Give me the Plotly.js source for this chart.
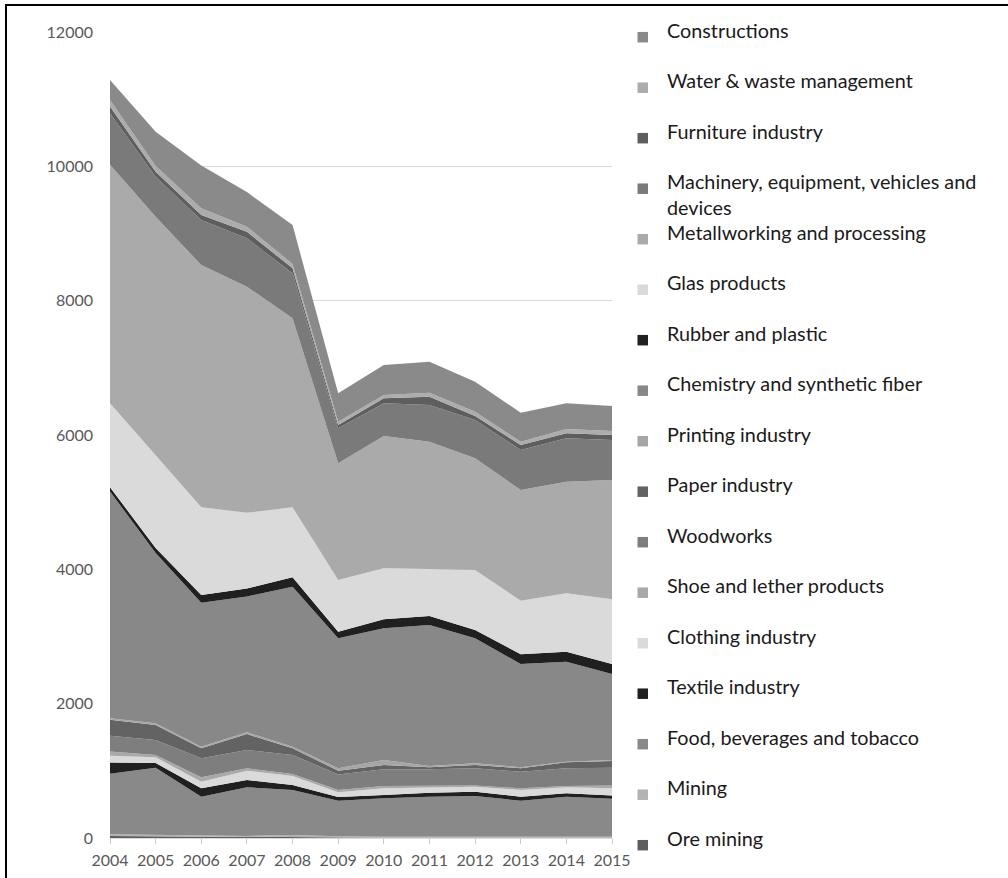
<!DOCTYPE html>
<html><head><meta charset="utf-8">
<script src="https://cdn.plot.ly/plotly-3.0.1.min.js"></script>
<style>
html,body{margin:0;padding:0;background:#fff;overflow:hidden}
#chart{width:1008px;height:878px}
#frame{position:absolute;left:5px;top:4px;width:1100px;height:1000px;border-left:2.5px solid #000;border-top:2.5px solid #000;pointer-events:none}
</style></head>
<body><div id="chart"></div><div id="frame"></div>
<script>
const years = [2004,2005,2006,2007,2008,2009,2010,2011,2012,2013,2014,2015];

const oreMining     = [30,25,25,10,10,5,5,5,5,5,5,5];
const mining        = [25,25,20,20,35,20,15,15,15,15,15,15];
const foodBeverages = [900,995,570,725,670,530,570,595,605,535,595,565];
const textile       = [168,70,125,108,74,55,50,59,64,60,50,48];
const clothing      = [100,86,98,139,134,70,100,81,75,100,90,107];
const shoeLeather   = [64,34,66,36,30,35,35,20,16,25,20,40];
const woodworks     = [234,224,283,272,283,230,248,248,258,247,263,265];
const paper         = [238,223,148,238,99,57,64,30,49,51,89,100];
const printing      = [25,26,24,26,24,36,74,19,25,15,9,16];
const chemistry     = [3374,2535,2144,2021,2382,1935,1961,2099,1861,1537,1489,1281];
const rubberPlastic = [65,75,115,120,140,99,134,134,124,145,149,148];
const glasProducts  = [1250,1382,1305,1128,1042,769,759,700,893,798,869,963];
const metallworking = [3549,3550,3607,3365,2814,1737,1970,1895,1663,1648,1662,1777];
const machinery     = [769,596,671,720,670,522,487,547,570,596,646,595];
const furniture     = [99,74,74,99,75,49,74,123,60,74,74,75];
const waterWaste    = [99,85,100,75,64,49,49,60,64,49,64,59];
const constructions = [298,509,639,515,580,422,447,462,446,432,382,372];

// stacking order: bottom to top
const seriesNames = [
  "Ore mining","Mining","Food, beverages and tobacco","Textile industry","Clothing industry",
  "Shoe and lether products","Woodworks","Paper industry","Printing industry",
  "Chemistry and synthetic fiber","Rubber and plastic","Glas products",
  "Metallworking and processing","Machinery, equipment, vehicles and<br>devices",
  "Furniture industry","Water & waste management","Constructions"
];
const seriesValues = [
  oreMining,mining,foodBeverages,textile,clothing,shoeLeather,woodworks,paper,printing,
  chemistry,rubberPlastic,glasProducts,metallworking,machinery,furniture,waterWaste,constructions
];
const yTicks = [0,2000,4000,6000,8000,10000,12000];

// styles
const seriesColors = [
  "#5e5e5e","#b2b2b2","#898989","#202020","#dadada",
  "#a9a9a9","#7e7e7e","#636363","#a6a6a6",
  "#888888","#202020","#dadada",
  "#aaaaaa","#7a7a7a","#5e5e5e","#acacac","#8a8a8a"
];

const L = 110, R = 396, T = 32, B = 40, W = 1008, H = 878;
const PW = W - L - R, PH = H - T - B;
const px2x = x => (x - L) / PW;
const px2y = y => (H - B - y) / PH;

const traces = seriesValues.map((vals, i) => ({
  x: years, y: vals, type: "scatter", mode: "lines", stackgroup: "one",
  name: seriesNames[i].replace("<br>", " "),
  line: {width: 0, color: seriesColors[i]},
  fillcolor: seriesColors[i],
  hoverinfo: "skip"
}));

const annotations = [];
const shapes = [];
const n = seriesNames.length;
for (let k = 0; k < n; k++) {
  const i = n - 1 - k; // legend top to bottom = reversed stack
  const baseline = 36.7 + k * 50.5;
  const lines = seriesNames[i].split("<br>").length;
  annotations.push({
    xref: "paper", yref: "paper",
    x: px2x(664.5), y: px2y(baseline - 7 + (lines - 1) * 12.6),
    xanchor: "left", yanchor: "middle", align: "left",
    text: seriesNames[i], showarrow: false,
    font: {family: "Lato, sans-serif", size: 19.8, color: "#1a1a1a"}
  });
  const cy = baseline + 0.5;
  shapes.push({
    type: "rect", xref: "paper", yref: "paper",
    x0: px2x(637.5), x1: px2x(648), y0: px2y(cy - 5.25), y1: px2y(cy + 5.25),
    fillcolor: seriesColors[i], line: {width: 0}
  });
}

const layout = {
  width: W, height: H,
  margin: {l: L, r: R, t: T, b: B, pad: 0},
  paper_bgcolor: "#fff", plot_bgcolor: "#fff",
  showlegend: false,
  font: {family: "Lato, sans-serif"},
  xaxis: {
    range: [2004, 2015], tickvals: years, ticktext: years.map(String),
    ticks: "outside", ticklen: 5, tickcolor: "#c8c8c8", tickwidth: 1,
    showline: true, linecolor: "#d9d9d9", linewidth: 1,
    showgrid: false, zeroline: false, fixedrange: true,
    ticklabelstandoff: 3,
    tickfont: {family: "Lato, sans-serif", size: 16, color: "#595959"}
  },
  yaxis: {
    range: [0, 12000], tickvals: yTicks, tickformat: "d",
    ticks: "", showline: false, zeroline: false,
    showgrid: true, gridcolor: "#d9d9d9", gridwidth: 1,
    ticklabelstandoff: 16, fixedrange: true,
    tickfont: {family: "Lato, sans-serif", size: 16, color: "#595959"}
  },
  annotations: annotations,
  shapes: shapes
};

Plotly.newPlot("chart", traces, layout, {displayModeBar: false, staticPlot: true});
</script>
</body></html>
